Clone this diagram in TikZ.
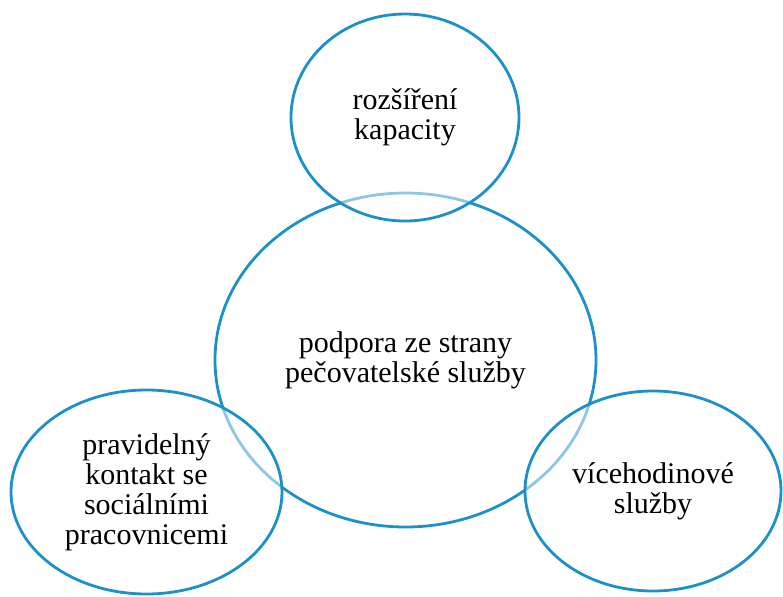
\documentclass[tikz,border=0pt]{standalone}
\usepackage{fontspec}
\setmainfont{Liberation Serif}
\usetikzlibrary{shapes.geometric}
\definecolor{ringblue}{RGB}{28,145,200}
\tikzset{
    ring/.style={ellipse, draw=ringblue, line width=2.1pt, inner sep=0pt, align=center,
        font=\fontsize{22.5}{22.5}\selectfont},
    outerring/.style={ring, fill=white, fill opacity=0.5, text opacity=1}
}
\begin{document}
\begin{tikzpicture}[x=0.75pt, y=-0.75pt]
    \useasboundingbox (0,0) rectangle (783,597);
    % middle
    \node[ring, minimum width=285.75pt, minimum height=250.5pt] (pecovatelska) at (405.5,360) {podpora ze strany\\pečovatelské služby};
    % around
    \node[outerring, minimum width=171pt, minimum height=155.25pt] (kapacita) at (405,117.5) {rozšíření\\kapacity};
    \node[outerring, minimum width=203.25pt, minimum height=153pt] (kontakt) at (146.5,492) {pravidelný\\kontakt se\\sociálními\\pracovnicemi};
    \node[outerring, minimum width=192pt, minimum height=150pt] (vicehodinove) at (653,491) {vícehodinové\\služby};
\end{tikzpicture}
\end{document}
